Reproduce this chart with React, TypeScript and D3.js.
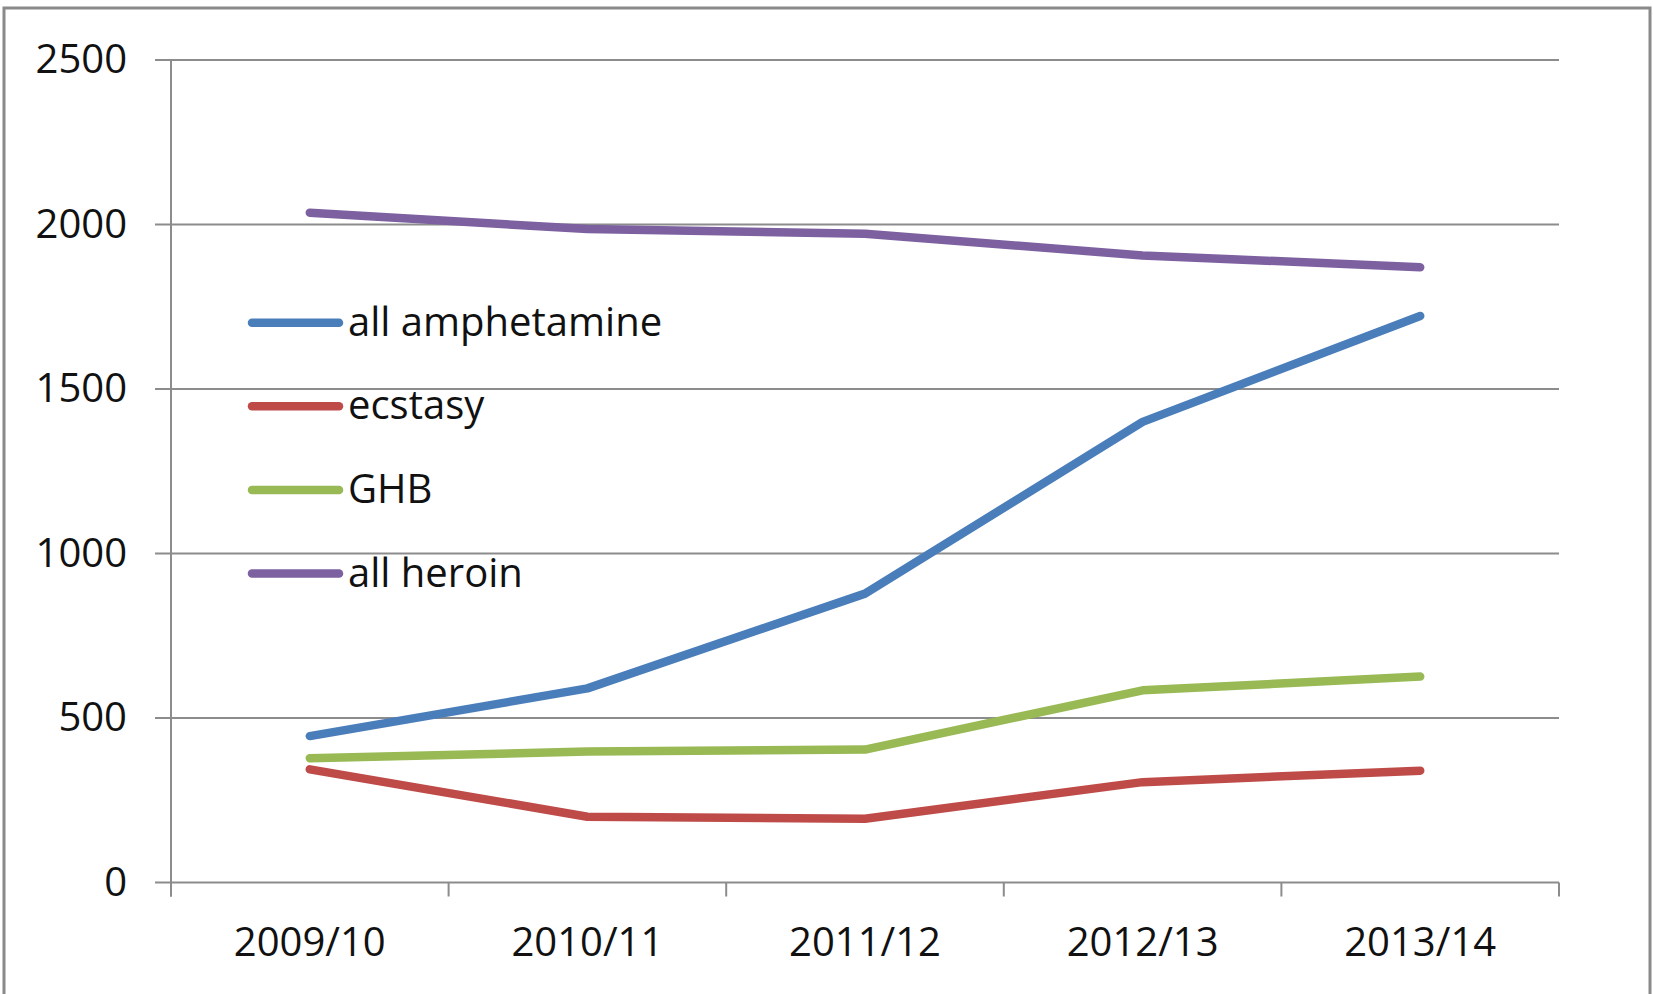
import React from "react";
import * as d3 from "d3";

const categories = ["2009/10", "2010/11", "2011/12", "2012/13", "2013/14"];
const yTicks = [0, 500, 1000, 1500, 2000, 2500];
const amphetamine = [445, 590, 878, 1400, 1722];
const ecstasy = [344, 200, 194, 305, 340];
const ghb = [378, 398, 404, 584, 626];
const heroin = [2036, 1986, 1972, 1906, 1870];

const seriesNames = ["all amphetamine", "ecstasy", "GHB", "all heroin"];
const seriesValues = [amphetamine, ecstasy, ghb, heroin];
const seriesColors = ["#4A7EBB", "#BE4B48", "#98B954", "#7D60A0"];

const W = 1653;
const H = 994;
const plotLeft = 171;
const plotRight = 1559;
const plotTop = 60;
const plotBottom = 882.5;
const FONT = "'Open Sans', sans-serif";
const GRID = "#8c8c8c";

export default function App() {
  const x = d3.scaleBand<string>().domain(categories).range([plotLeft, plotRight]).padding(0);
  const y = d3.scaleLinear().domain([0, 2500]).range([plotBottom, plotTop]);
  const cx = (c: string) => (x(c) ?? 0) + x.bandwidth() / 2;
  const line = d3
    .line<number>()
    .x((_, i) => cx(categories[i]))
    .y((v) => y(v));

  const tickEdges = [...categories.map((c) => x(c) ?? 0), plotRight];

  const legendX1 = 252;
  const legendX2 = 339;
  const legendTop = 322.7;
  const legendStep = 83.6;

  return (
    <div style={{ position: "absolute", left: 0, top: 0 }}>
      <svg width={W} height={H} style={{ display: "block", background: "#fff" }}>
        <rect x={4} y={8} width={1646} height={1000} fill="#fff" stroke="#8a8a8a" strokeWidth={3} />
        {yTicks.map((t) => (
          <g key={t}>
            <line x1={155} x2={plotRight} y1={y(t)} y2={y(t)} stroke={GRID} strokeWidth={2} />
            <text
              x={127}
              y={y(t) + 13}
              textAnchor="end"
              fontFamily={FONT}
              fontSize={40}
              fill="#111"
            >
              {t}
            </text>
          </g>
        ))}
        <line x1={plotLeft} x2={plotLeft} y1={plotTop} y2={plotBottom + 14} stroke={GRID} strokeWidth={2} />
        {tickEdges.map((tx, i) => (
          <line key={i} x1={tx} x2={tx} y1={plotBottom} y2={plotBottom + 14} stroke={GRID} strokeWidth={2} />
        ))}
        {categories.map((c) => (
          <text
            key={c}
            x={cx(c)}
            y={956}
            textAnchor="middle"
            fontFamily={FONT}
            fontSize={40}
            fill="#111"
          >
            {c}
          </text>
        ))}
        {seriesValues.map((vals, i) => (
          <path
            key={seriesNames[i]}
            d={line(vals) ?? ""}
            fill="none"
            stroke={seriesColors[i]}
            strokeWidth={8.5}
            strokeLinecap="round"
            strokeLinejoin="round"
          />
        ))}
        {seriesNames.map((name, i) => {
          const ly = legendTop + i * legendStep;
          return (
            <g key={name}>
              <line x1={legendX1} x2={legendX2} y1={ly} y2={ly} stroke={seriesColors[i]} strokeWidth={8.5} strokeLinecap="round" />
              <text x={348} y={ly + 13} fontFamily={FONT} fontSize={40} fill="#111">
                {name}
              </text>
            </g>
          );
        })}
      </svg>
    </div>
  );
}
